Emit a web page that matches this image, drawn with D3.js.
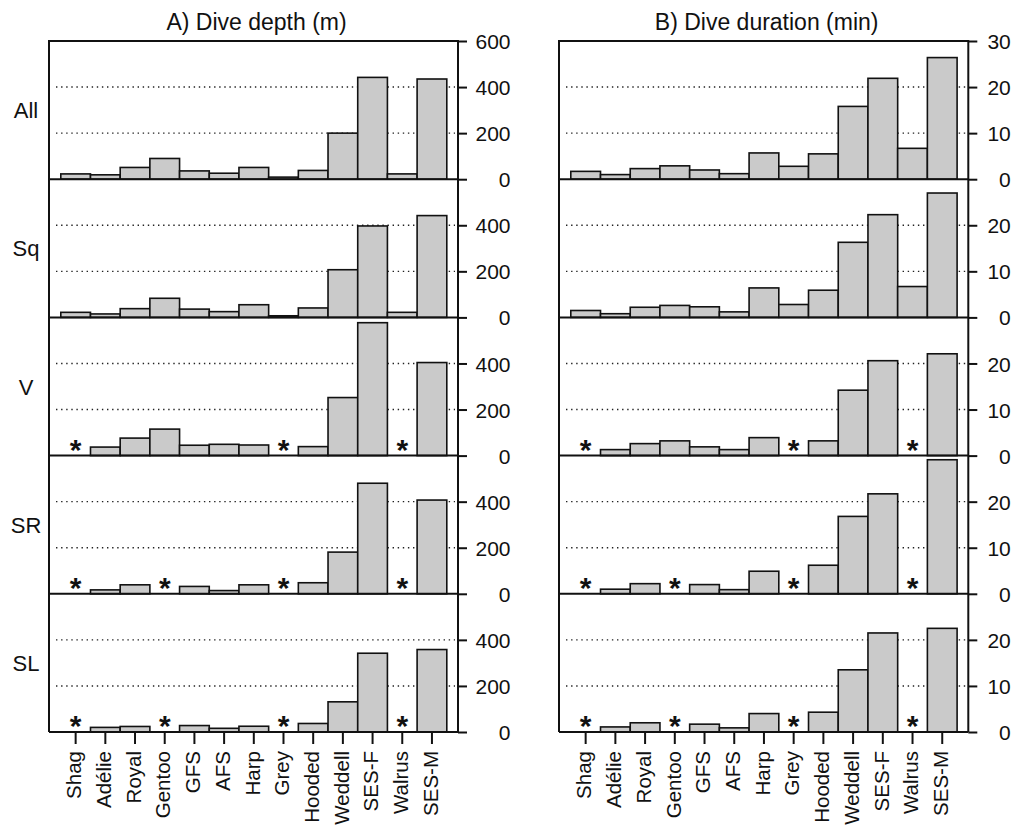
<!DOCTYPE html>
<html>
<head>
<meta charset="utf-8">
<script src="https://cdn.jsdelivr.net/npm/d3@7"></script>
<style>
  html, body { margin: 0; padding: 0; background: #fff; }
  svg { display: block; font-family: "Liberation Sans", Arial, Helvetica, sans-serif; }
</style>
</head>
<body>
<svg id="chart" width="1013" height="825"></svg>
<script>
// Species, in plotting order
const species = ["Shag", "Adélie", "Royal", "Gentoo", "GFS", "AFS", "Harp", "Grey",
                 "Hooded", "Weddell", "SES-F", "Walrus", "SES-M"];
// Dive types (one row of panels each)
const diveTypes = ["All", "Sq", "V", "SR", "SL"];

// Mean dive depth (m); null = dive type not recorded (*)
const depthAll = [23, 19, 51, 90, 36, 26, 51, 9, 38, 200, 442, 23, 435];
const depthSq  = [22, 15, 38, 83, 36, 25, 55, 7, 41, 207, 397, 22, 442];
const depthV   = [null, 37, 76, 115, 45, 49, 46, null, 39, 252, 577, null, 404];
const depthSR  = [null, 17, 39, null, 32, 14, 39, null, 48, 181, 480, null, 407];
const depthSL  = [null, 20, 24, null, 28, 16, 25, null, 37, 131, 342, null, 358];

// Mean dive duration (min)
const durAll = [1.7, 1.0, 2.3, 2.9, 2.0, 1.2, 5.7, 2.8, 5.5, 15.8, 21.9, 6.7, 26.4];
const durSq  = [1.5, 0.8, 2.2, 2.6, 2.3, 1.2, 6.4, 2.8, 5.9, 16.3, 22.3, 6.7, 27.0];
const durV   = [null, 1.3, 2.6, 3.2, 1.9, 1.3, 3.9, null, 3.2, 14.2, 20.6, null, 22.1];
const durSR  = [null, 1.0, 2.2, null, 2.0, 0.9, 4.9, null, 6.2, 16.8, 21.7, null, 29.1];
const durSL  = [null, 1.1, 2.0, null, 1.7, 0.9, 4.0, null, 4.3, 13.5, 21.5, null, 22.5];

// Axis ticks and dotted reference lines
const depthTicks = [0, 200, 400, 600];
const depthGrid = [200, 400];
const durTicks = [0, 10, 20, 30];
const durGrid = [10, 20];

const columns = [
  { title: "A) Dive depth (m)", series: [depthAll, depthSq, depthV, depthSR, depthSL],
    max: 600, ticks: depthTicks, grid: depthGrid, x0: 49, x1: 458, labelDx: 52.5 },
  { title: "B) Dive duration (min)", series: [durAll, durSq, durV, durSR, durSL],
    max: 30, ticks: durTicks, grid: durGrid, x0: 559, x1: 968.3, labelDx: 42.5 }
];

const svg = d3.select("#chart");
const plotTop = 41, rowH = 138.2;
const plotBottom = plotTop + rowH * diveTypes.length;
const barFill = "#cacaca", ink = "#111";

// Row labels
diveTypes.forEach((t, i) => {
  svg.append("text")
    .attr("x", 26).attr("y", plotTop + rowH * i + rowH / 2 + 8)
    .attr("text-anchor", "middle")
    .attr("font-size", 22).attr("fill", ink)
    .text(t);
});

columns.forEach(col => {
  const x = d3.scaleBand().domain(species)
    .range([col.x0 + 11.8, col.x1 - 11.2]).paddingInner(0).paddingOuter(0);

  const g = svg.append("g");

  // Column title
  g.append("text")
    .attr("x", (col.x0 + col.x1) / 2 + 3).attr("y", 30)
    .attr("text-anchor", "middle").attr("font-size", 23).attr("fill", ink)
    .text(col.title);

  col.series.forEach((vals, i) => {
    const y0 = plotTop + rowH * i, y1 = y0 + rowH;
    const y = d3.scaleLinear().domain([0, col.max]).range([y1, y0]);
    const p = g.append("g");

    // dotted reference lines
    p.selectAll("line.grid").data(col.grid).join("line")
      .attr("class", "grid")
      .attr("x1", col.x0 + 7).attr("x2", col.x1 - 3)
      .attr("y1", d => y(d)).attr("y2", d => y(d))
      .attr("stroke", "#222").attr("stroke-width", 1.4)
      .attr("stroke-dasharray", "1.4 3.7");

    const rows = species.map((s, k) => ({ s, v: vals[k] }));

    // bars
    p.selectAll("rect").data(rows.filter(d => d.v !== null)).join("rect")
      .attr("x", d => x(d.s)).attr("width", x.bandwidth())
      .attr("y", d => y(d.v)).attr("height", d => y(0) - y(d.v))
      .attr("fill", barFill).attr("stroke", ink).attr("stroke-width", 1.6);

    // asterisks for dive types not recorded
    p.selectAll("text.miss").data(rows.filter(d => d.v === null)).join("text")
      .attr("class", "miss")
      .attr("x", d => x(d.s) + x.bandwidth() / 2)
      .attr("y", y(0) + 4)
      .attr("text-anchor", "middle")
      .attr("font-size", 30).attr("font-weight", "bold").attr("fill", ink)
      .text("*");

    // zero line of the panel
    p.append("line")
      .attr("x1", col.x0).attr("x2", col.x1)
      .attr("y1", y(0)).attr("y2", y(0))
      .attr("stroke", ink).attr("stroke-width", 2);

    // right-hand axis
    const tv = i === 0 ? col.ticks : col.ticks.slice(0, -1);
    const ax = p.append("g")
      .attr("transform", `translate(${col.x1},0)`)
      .call(d3.axisRight(y).tickValues(tv).tickSize(9).tickPadding(0).tickSizeOuter(0));
    ax.select(".domain").remove();
    ax.selectAll(".tick line").attr("stroke", ink).attr("stroke-width", 2);
    ax.selectAll(".tick text")
      .attr("x", col.labelDx).attr("dy", "0.36em")
      .attr("text-anchor", "end")
      .attr("font-size", 21).attr("font-family", null).attr("fill", ink);
  });

  // frame: top, left and right edges
  g.append("path")
    .attr("d", `M${col.x0},${plotBottom}V${plotTop}H${col.x1}V${plotBottom}`)
    .attr("fill", "none").attr("stroke", ink).attr("stroke-width", 2);

  // species axis at the bottom
  const bx = g.append("g")
    .attr("transform", `translate(0,${plotBottom})`)
    .call(d3.axisBottom(x).tickSize(12).tickSizeOuter(0));
  bx.select(".domain").remove();
  bx.selectAll(".tick line").attr("stroke", ink).attr("stroke-width", 2);
  bx.selectAll(".tick text")
    .attr("transform", "rotate(-90)")
    .attr("x", -19).attr("y", 0).attr("dy", "0.28em")
    .attr("text-anchor", "end")
    .attr("font-size", 20.5).attr("font-family", null).attr("fill", ink);
});
</script>
</body>
</html>
